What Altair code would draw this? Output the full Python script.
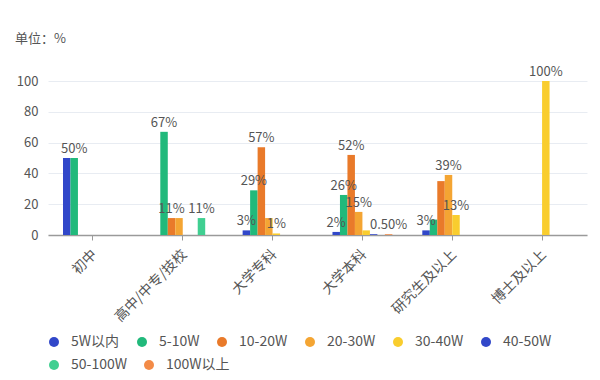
import altair as alt
import pandas as pd

categories = ["初中", "高中/中专/技校", "大学专科", "大学本科", "研究生及以上", "博士及以上"]
series = ["5W以内", "5-10W", "10-20W", "20-30W", "30-40W", "40-50W", "50-100W", "100W以上"]
colors = ["#3147c9", "#21b97b", "#e97a2a", "#f4a533", "#f9cd2e", "#3147c9", "#40cf91", "#f38b47"]

v_5w = [50, 0, 3, 2, 3, 0]
v_5_10 = [50, 67, 29, 26, 10, 0]
v_10_20 = [0, 11, 57, 52, 35, 0]
v_20_30 = [0, 11, 11, 15, 39, 0]
v_30_40 = [0, 0, 1, 3, 13, 100]
v_40_50 = [0, 0, 0, 0.5, 0, 0]
v_50_100 = [0, 11, 0, 0, 0, 0]
v_100 = [0, 0, 0, 0.5, 0, 0]

# labels visible in the reference (others hidden by overlap)
shown = [
    ("初中", "5-10W"),
    ("高中/中专/技校", "5-10W"), ("高中/中专/技校", "10-20W"), ("高中/中专/技校", "50-100W"),
    ("大学专科", "5W以内"), ("大学专科", "5-10W"), ("大学专科", "10-20W"), ("大学专科", "30-40W"),
    ("大学本科", "5W以内"), ("大学本科", "5-10W"), ("大学本科", "10-20W"), ("大学本科", "20-30W"),
    ("大学本科", "100W以上"),
    ("研究生及以上", "5W以内"), ("研究生及以上", "20-30W"), ("研究生及以上", "30-40W"),
    ("博士及以上", "30-40W"),
]

all_vals = [v_5w, v_5_10, v_10_20, v_20_30, v_30_40, v_40_50, v_50_100, v_100]
rows = []
for s, vals in zip(series, all_vals):
    for c, v in zip(categories, vals):
        if v <= 0:
            continue
        lab = f"{int(v)}%" if float(v).is_integer() else f"{v:.2f}%"
        rows.append({"category": c, "series": s, "value": v, "label": lab,
                     "show": (c, s) in shown})
df = pd.DataFrame(rows)

FONT = "Noto Sans CJK SC"

legend_common = dict(title=None, orient="none", legendX=-1, direction="horizontal",
                     symbolType="circle", symbolSize=100, symbolStrokeWidth=0,
                     symbolOpacity=1, labelFontSize=14, labelColor="#555",
                     labelFont=FONT, columnPadding=15, labelOffset=10, padding=0)

base = alt.Chart(df).encode(
    x=alt.X("category:N", sort=categories,
            scale=alt.Scale(domain=categories, paddingInner=1/3, paddingOuter=1/6),
            axis=alt.Axis(title=None, labelAngle=-45, labelAlign="right", labelBaseline="middle",
                          labelFontSize=14, labelColor="#555", labelPadding=12, labelOffset=2,
                          domainColor="#9a9a9a", domainWidth=1.5, tickColor="#9a9a9a",
                          tickSize=5, grid=False, labelFont=FONT)),
    xOffset=alt.XOffset("series:N", sort=series,
                        scale=alt.Scale(domain=series, paddingInner=0, paddingOuter=0)),
    y=alt.Y("value:Q", scale=alt.Scale(domain=[0, 100]),
            axis=alt.Axis(title=None, values=[0, 20, 40, 60, 80, 100], ticks=False, domain=False,
                          labelPadding=10, labelFontSize=13, labelColor="#555",
                          gridColor="#e8ecf2", labelFont=FONT)),
)

bars = base.mark_bar().encode(
    color=alt.Color("series:N", sort=series,
                    scale=alt.Scale(domain=series, range=colors),
                    legend=alt.Legend(values=series[:6], legendY=254, **legend_common)),
)

# invisible layer carrying the second legend row
legend_row2 = base.mark_circle(opacity=0, size=0).encode(
    fill=alt.Fill("series:N", sort=series[6:],
                  scale=alt.Scale(domain=series[6:], range=colors[6:]),
                  legend=alt.Legend(legendY=277, **legend_common)),
)

text = base.mark_text(dy=-5, baseline="alphabetic", fontSize=13, color="#555", font=FONT).encode(
    text="label:N"
).transform_filter("datum.show")

title_df = pd.DataFrame({"t": ["单位：%"]})
title = alt.Chart(title_df).mark_text(align="left", baseline="middle", fontSize=13,
                                      color="#555", font=FONT).encode(
    x=alt.value(-33), y=alt.value(-42), text="t:N")

chart = alt.layer(bars, legend_row2, text, title).properties(
    width=539, height=154,
    padding={"left": 40, "top": 73, "right": 5, "bottom": 137},
    autosize=alt.AutoSizeParams(type="none"),
    background="white",
).configure_view(stroke=None)

chart.save("out.html", embed_options={"renderer": "svg", "actions": False})
